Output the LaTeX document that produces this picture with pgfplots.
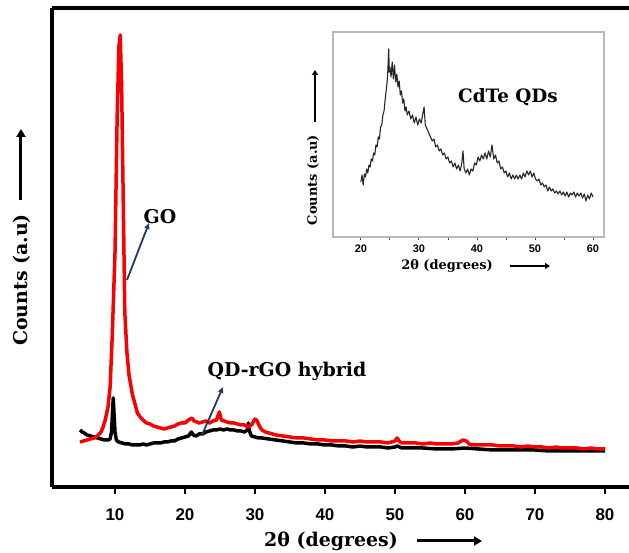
\documentclass[border=0pt]{standalone}
\usepackage{fontspec}
\setmainfont{DejaVu Serif}
\newfontfamily\ticksf{Liberation Sans}
\usepackage{pgfplots}
\pgfplotsset{compat=1.18}
\usetikzlibrary{arrows.meta}

\definecolor{goRed}{RGB}{250,0,0}
\definecolor{navy}{RGB}{31,56,100}

\begin{document}
\begin{tikzpicture}[x=1bp,y=1bp]
\useasboundingbox (-52,-66) rectangle (577,487);
\coordinate (mainSW) at (0,0);
\coordinate (insetSW) at (281,250);

% main XRD panel (y in arbitrary units)
\begin{axis}[
    at={(mainSW)}, anchor=south west,
    scale only axis, width=577bp, height=479bp,
    xmin=1, xmax=83.43, ymin=0, ymax=479,
    axis x line=box, axis y line=left,
    axis line style={-, line width=3.5bp},
    xtick={10,20,...,80}, xtick pos=bottom,
    ytick=\empty,
    tick align=outside, major tick length=7bp,
    tick style={line width=2bp, black},
    /pgf/number format/assume math mode=true,
    xticklabel style={font=\ticksf\bfseries\fontsize{17}{17}\selectfont, yshift=-11bp},
]
% QD-rGO hybrid
\addplot[black, line width=3.5bp, line join=round] coordinates {
    (5.0,57) (5.3,55) (5.6,54) (6.0,52) (6.5,51) (7.0,50) (7.5,49) (8.0,48)
    (8.5,47) (9.0,47) (9.3,48) (9.5,55) (9.65,75) (9.75,89) (9.85,75) (10.0,55)
    (10.2,47) (10.5,45) (11.0,44) (11.5,43) (12.0,43) (12.5,42) (13.0,42) (13.5,42)
    (14.0,43) (14.5,42) (15.0,43) (15.5,44) (16.0,44) (16.5,44) (17.0,45) (17.5,45)
    (18.0,46) (18.5,46) (19.0,48) (19.5,49) (20.0,50) (20.5,51) (20.9,55) (21.2,52)
    (21.6,51) (22.0,53) (22.5,53) (23.0,55) (23.5,56) (24.0,57) (24.5,57) (25.0,58)
    (25.5,57) (26.0,58) (26.5,57) (27.0,57) (27.5,56) (28.0,56) (28.5,55) (28.9,57)
    (29.05,64) (29.2,56) (29.5,51) (30.0,50) (30.5,49) (31.0,49) (32.0,48) (33.0,47)
    (34.0,46) (35.0,45) (36.0,44) (37.0,44) (38.0,43) (39.0,43) (40.0,42) (41.0,42)
    (42.0,41) (43.0,41) (44.0,40) (45.0,41) (46.0,40) (47.0,40) (48.0,40) (49.0,39)
    (50.0,40) (50.3,41) (51.0,39) (52.0,39) (54.0,39) (56.0,38) (58.0,38) (60.0,39)
    (62.0,38) (64.0,37) (66.0,37) (68.0,37) (70.0,37) (72.0,36) (74.0,36) (76.0,36)
    (78.0,36) (80.0,36)
};
% GO
\addplot[goRed, line width=3.5bp, line join=round] coordinates {
    (5.0,45) (5.5,46) (6.0,47) (6.5,48) (7.0,49) (7.5,51) (8.0,55) (8.3,60)
    (8.6,67) (9.0,80) (9.3,100) (9.6,150) (10.0,234) (10.3,367) (10.55,440) (10.75,452)
    (10.95,400) (11.15,300) (11.4,175) (11.7,135) (12.0,112) (12.2,104) (12.5,92) (12.9,82)
    (13.2,74) (13.6,70) (14.0,67) (14.5,64) (15.0,63) (15.5,61) (16.0,60) (16.5,59)
    (17.0,58) (17.5,59) (18.0,60) (18.5,61) (19.0,63) (19.5,64) (20.0,64) (20.5,67)
    (21.0,69) (21.3,66) (21.7,65) (22.0,64) (22.5,65) (23.0,66) (23.5,64) (24.0,66)
    (24.5,67) (24.9,75) (25.2,67) (25.6,66) (26.0,65) (26.5,64) (27.0,64) (27.5,63)
    (28.0,62) (28.5,62) (29.0,60) (29.5,62) (30.0,68) (30.3,66) (30.7,60) (31.0,57)
    (31.5,55) (32.0,54) (32.5,53) (33.0,52) (34.0,51) (35.0,50) (36.0,49) (37.0,49)
    (38.0,48) (39.0,47) (40.0,47) (41.0,46) (42.0,46) (43.0,46) (44.0,45) (45.0,46)
    (46.0,45) (47.0,45) (48.0,45) (49.0,44) (50.0,46) (50.3,49) (50.7,45) (51.0,44)
    (52.0,44) (53.0,44) (54.0,43) (55.0,44) (56.0,43) (57.0,43) (58.0,43) (59.0,44)
    (59.7,47) (60.2,46) (60.6,43) (61.0,42) (62.0,42) (63.0,42) (64.0,42) (65.0,41)
    (66.0,41) (67.0,41) (68.0,40) (69.0,41) (70.0,40) (71.0,40) (72.0,39) (73.0,40)
    (74.0,39) (75.0,39) (76.0,39) (77.0,38) (78.0,39) (79.0,38) (80.0,38)
};
\end{axis}

% inset: CdTe QDs
\begin{axis}[
    at={(insetSW)}, anchor=south west,
    scale only axis, width=271bp, height=205bp,
    xmin=15.2, xmax=61.9, ymin=0, ymax=205,
    axis line style={gray!55, line width=1.2bp},
    xtick={20,30,...,60}, minor xtick={25,35,45,55}, xtick pos=bottom,
    ytick=\empty,
    tick align=outside, major tick length=3bp, minor tick length=3bp,
    tick style={line width=0.8bp, black!70},
    /pgf/number format/assume math mode=true,
    xticklabel style={font=\ticksf\bfseries\fontsize{11}{11}\selectfont, yshift=-1bp},
]
\addplot[black!85, line width=1.1bp, line join=round] coordinates {
    (20.0,55) (20.2,62) (20.4,52) (20.6,63) (20.8,60) (21.0,68) (21.2,64) (21.4,72)
    (21.6,70) (21.8,78) (22.0,76) (22.2,84) (22.4,82) (22.6,92) (22.8,90) (23.0,100)
    (23.2,98) (23.4,110) (23.6,112) (23.8,122) (24.0,126) (24.2,138) (24.4,148) (24.6,160)
    (24.8,188) (24.9,165) (25.0,170) (25.2,160) (25.4,175) (25.6,158) (25.8,172) (26.0,155)
    (26.2,163) (26.4,150) (26.6,156) (26.8,142) (27.0,146) (27.2,134) (27.4,138) (27.6,126)
    (27.8,130) (28.0,122) (28.3,126) (28.6,118) (28.9,122) (29.2,114) (29.5,120) (29.8,112)
    (30.1,118) (30.4,114) (30.7,124) (30.9,130) (31.1,112) (31.4,108) (31.7,104) (32.0,100)
    (32.3,96) (32.6,98) (32.9,90) (33.2,92) (33.5,86) (33.8,88) (34.1,82) (34.4,84)
    (34.7,78) (35.0,80) (35.3,74) (35.6,76) (35.9,70) (36.2,74) (36.5,68) (36.8,72)
    (37.1,66) (37.4,74) (37.6,86) (37.8,68) (38.1,64) (38.4,68) (38.7,62) (39.0,68)
    (39.3,66) (39.6,74) (39.9,72) (40.2,80) (40.5,76) (40.8,82) (41.1,78) (41.4,84)
    (41.7,78) (42.0,86) (42.3,80) (42.6,92) (42.9,78) (43.2,82) (43.5,74) (43.8,76)
    (44.1,68) (44.4,70) (44.7,64) (45.0,66) (45.3,60) (45.6,64) (45.9,58) (46.2,62)
    (46.5,58) (46.8,62) (47.1,58) (47.4,62) (47.7,58) (48.0,64) (48.3,60) (48.6,66)
    (48.9,62) (49.2,66) (49.5,60) (49.8,64) (50.1,58) (50.4,56) (50.7,58) (51.0,52)
    (51.3,54) (51.6,50) (51.9,52) (52.2,46) (52.5,50) (52.8,46) (53.1,48) (53.4,44)
    (53.7,46) (54.0,43) (54.3,46) (54.6,42) (54.9,45) (55.2,41) (55.5,45) (55.8,40)
    (56.1,44) (56.4,42) (56.7,45) (57.0,40) (57.3,44) (57.6,41) (57.9,44) (58.2,39)
    (58.5,43) (58.8,36) (59.1,42) (59.4,38) (59.7,44) (60.0,40)
};
\end{axis}

% labels and arrows
\tikzset{blk/.style={-{Triangle[length=8bp,width=9bp]}, line width=3bp},
         blks/.style={-{Triangle[length=5bp,width=6bp]}, line width=1.8bp},
         nav/.style={navy, -{Triangle[length=6bp,width=5bp]}, line width=1.8bp}}
\node[rotate=90, font=\bfseries\fontsize{19}{19}\selectfont] at (-30,207) {Counts (a.u)};
\draw[blk] (-31,287) -- (-31,358);
\node[font=\bfseries\fontsize{19}{19}\selectfont] at (279,-54) {2θ (degrees)};
\draw[blk] (365,-54) -- (430,-54);

\node[font=\bfseries\fontsize{19}{19}\selectfont] at (108,270) {GO};
\draw[nav] (75,207) -- (97,264);
\node[font=\bfseries\fontsize{19}{19}\selectfont] at (235,116) {QD-rGO hybrid};
\draw[nav] (150,52) -- (171,100);

\node[font=\bfseries\fontsize{18.5}{18.5}\selectfont] at (456,390) {CdTe QDs};
\node[rotate=90, font=\bfseries\fontsize{13}{13}\selectfont] at (261,307) {Counts (a.u)};
\draw[blks] (263,365) -- (263,417);
\node[font=\bfseries\fontsize{13}{13}\selectfont] at (395,221) {2θ (degrees)};
\draw[blks] (458,221) -- (498,221);
\end{tikzpicture}
\end{document}
